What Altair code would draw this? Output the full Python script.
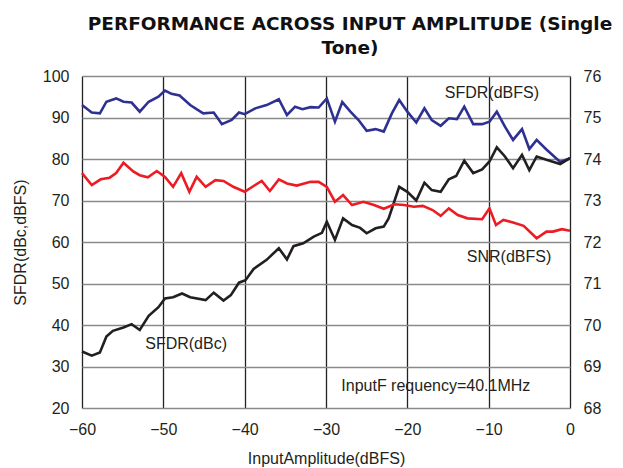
import altair as alt
import pandas as pd

# SFDR (dBFS) - blue, left axis
x_sfdr_dbfs = [-60, -58.8, -57.8, -57, -55.8, -54.9, -53.9, -52.9, -51.8, -50.6, -49.8, -49, -48, -46.7,
               -45.1, -43.8, -42.8, -41.6, -40.7, -40, -38.7, -37.3, -35.8, -34.8, -33.8, -32.9, -31.9,
               -30.9, -29.9, -28.9, -28, -27, -26, -25, -23.9, -22.9, -21.9, -21, -20, -18.9, -17.9, -17,
               -15.9, -14.9, -13.9, -13, -11.9, -10.8, -9.9, -9, -8, -7, -5.9, -5, -4.1, -2.9, -1.2, 0]
y_sfdr_dbfs = [93.0, 91.2, 91.0, 93.8, 94.6, 93.8, 93.6, 91.4, 93.8, 95.0, 96.5, 95.7, 95.3, 93.0,
               91.0, 91.2, 88.4, 89.4, 91.2, 90.8, 92.2, 93.0, 94.4, 90.6, 92.6, 92.0, 92.5,
               92.4, 94.6, 89.0, 93.7, 91.4, 89.4, 86.8, 87.2, 86.6, 91.0, 94.2, 91.4, 88.8, 92.2, 89.4,
               88.0, 89.8, 89.6, 92.6, 88.4, 88.4, 89.0, 91.4, 87.8, 84.6, 87.2, 82.4, 84.6, 82.3, 79.3, 80.2]

# SFDR (dBc) - black, left axis
x_sfdr_dbc = [-60, -58.8, -57.8, -57, -56.2, -54.9, -53.9, -52.9, -51.8, -50.6, -49.8, -48.8, -47.7, -46.7,
              -44.8, -43.8, -42.6, -41.7, -40.7, -39.9, -38.9, -37.3, -35.8, -34.8, -34, -32.8, -31.5,
              -30.5, -29.9, -28.9, -27.9, -26.8, -25.8, -25, -23.9, -22.9, -22.3, -21, -20, -18.9, -17.9,
              -17, -15.9, -14.9, -14, -13, -11.9, -10.8, -9.9, -9, -8, -7, -5.9, -5, -4.1, -2.9, -1.2, 0]
y_sfdr_dbc = [33.6, 32.6, 33.4, 37.2, 38.6, 39.4, 40.2, 38.8, 42.2, 44.3, 46.4, 46.7, 47.6, 46.7,
              46.0, 47.8, 45.9, 47.2, 50.2, 50.8, 53.5, 55.7, 58.5, 55.8, 59.0, 59.7, 61.3,
              62.2, 64.9, 60.5, 65.7, 64.1, 63.4, 62.1, 63.3, 63.7, 65.7, 73.3, 72.1, 70.0, 74.3,
              72.5, 72.1, 75.1, 75.9, 79.6, 76.6, 77.5, 79.4, 82.8, 80.6, 77.8, 81.0, 77.3, 80.6, 79.8, 78.8, 80.2]

# SNR (dBFS) - red, right axis
x_snr = [-60, -58.8, -57.7, -56.6, -55.8, -54.9, -53.7, -52.9, -51.9, -50.8, -49.8, -48.8, -47.8, -46.8,
         -45.9, -44.8, -43.6, -42.6, -41.4, -40, -38.9, -37.9, -36.9, -35.8, -34.8, -33.6, -31.9, -30.9,
         -29.9, -28.9, -27.9, -26.8, -25.4, -24.1, -22.9, -21.6, -20.4, -19.2, -18.1, -16.9, -15.9, -14.9,
         -13.8, -12.6, -10.8, -9.9, -9.1, -8.2, -7, -5.7, -4.1, -2.9, -2.1, -1, 0]
y_snr = [73.66, 73.37, 73.51, 73.55, 73.66, 73.91, 73.70, 73.61, 73.56, 73.71, 73.57, 73.33, 73.66, 73.21,
         73.57, 73.33, 73.49, 73.47, 73.33, 73.21, 73.35, 73.47, 73.23, 73.51, 73.41, 73.36, 73.45, 73.45,
         73.33, 72.97, 73.13, 72.89, 72.97, 72.89, 72.80, 72.91, 72.89, 72.85, 72.87, 72.77, 72.63, 72.81,
         72.65, 72.57, 72.55, 72.81, 72.41, 72.53, 72.47, 72.39, 72.09, 72.25, 72.25, 72.31, 72.27]

# annotations (data coordinates on left axis)
label_text = ["SFDR(dBFS)", "SNR(dBFS)", "SFDR(dBc)", "InputF requency=40.1MHz"]
label_x = [-9.6, -7.5, -47.2, -16.5]
label_y = [95.9, 56.4, 35.4, 25.2]

x_ticks = [-60, -50, -40, -30, -20, -10, 0]
left_ticks = [20, 30, 40, 50, 60, 70, 80, 90, 100]
right_ticks = [68, 69, 70, 71, 72, 73, 74, 75, 76]

left_df = pd.concat([
    pd.DataFrame({"x": x_sfdr_dbfs, "value": y_sfdr_dbfs, "series": "SFDR(dBFS)"}),
    pd.DataFrame({"x": x_sfdr_dbc, "value": y_sfdr_dbc, "series": "SFDR(dBc)"}),
])
snr_df = pd.DataFrame({"x": x_snr, "snr": y_snr})
label_df = pd.DataFrame({"x": label_x, "value": label_y, "text": label_text})

FONT = "Liberation Sans"

x_enc = alt.X("x:Q", scale=alt.Scale(domain=[-60, 0], nice=False, zero=False),
              axis=alt.Axis(values=x_ticks, title="InputAmplitude(dBFS)", grid=True,
                            gridColor="#222222", gridWidth=1.3, ticks=False, domain=False,
                            labelFlush=False,
                            labelFontSize=16, labelFont=FONT, labelColor="#231F20", labelPadding=13,
                            titleFontSize=16, titleFont=FONT, titleFontWeight="normal",
                            titleColor="#231F20", titlePadding=13))

left_axis = alt.Axis(values=left_ticks, title="SFDR(dBc,dBFS)", grid=True, gridColor="#8a8a8a",
                     gridWidth=1.6, ticks=False, domain=False, labelFontSize=16, labelFont=FONT,
                     labelColor="#231F20", labelPadding=13, titleFontSize=16, titleFont=FONT,
                     titleFontWeight="normal", titleColor="#231F20", titlePadding=14)
left_scale = alt.Scale(domain=[20, 100], nice=False, zero=False)

lines = alt.Chart(left_df).mark_line(strokeWidth=2.6).encode(
    x=x_enc,
    y=alt.Y("value:Q", scale=left_scale, axis=left_axis),
    color=alt.Color("series:N", scale=alt.Scale(domain=["SFDR(dBFS)", "SFDR(dBc)"],
                                                range=["#2E3192", "#231F20"]), legend=None),
    detail="series:N",
)

texts = alt.Chart(label_df).mark_text(fontSize=16, font=FONT, color="#231F20",
                                      align="center", baseline="middle").encode(
    x=x_enc,
    y=alt.Y("value:Q", scale=left_scale, axis=left_axis),
    text="text:N",
)

left = alt.layer(lines, texts)

right = alt.Chart(snr_df).mark_line(strokeWidth=2.6, color="#ED1C24").encode(
    x=x_enc,
    y=alt.Y("snr:Q", scale=alt.Scale(domain=[68, 76], nice=False, zero=False),
            axis=alt.Axis(values=right_ticks, orient="right", title="", grid=False,
                          ticks=False, domain=False, labelFontSize=16, labelFont=FONT,
                          labelColor="#231F20", labelPadding=13)),
)

chart = alt.layer(left, right).resolve_scale(y="independent").properties(
    width=488,
    height=332,
    autosize=alt.AutoSizeParams(type="none"),
    padding={"left": 74, "top": 68, "right": 45, "bottom": 60},
    title=alt.TitleParams(
        text=["PERFORMANCE ACROSS INPUT AMPLITUDE (Single", "Tone)"],
        font="DejaVu Sans", fontSize=18.5, fontWeight="bold", color="#111111",
        anchor="middle", dx=24, offset=11, lineHeight=24,
    ),
).configure_view(stroke="#231F20", strokeWidth=2.6).configure(background="white")

chart.save("out.html", embed_options={"renderer": "svg", "actions": False})
